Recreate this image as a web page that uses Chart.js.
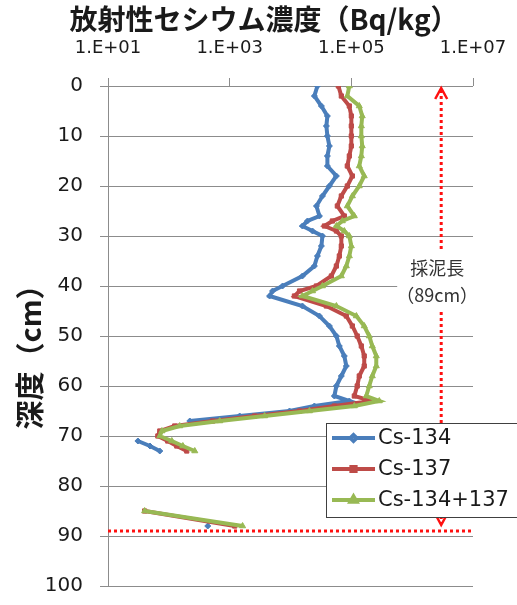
<!DOCTYPE html>
<html>
<head>
<meta charset="utf-8">
<script src="https://cdn.jsdelivr.net/npm/chart.js@4"></script>
<style>
  html, body { margin: 0; padding: 0; background: #fff; }
</style>
</head>
<body>
<canvas id="depthChart" width="517" height="605"></canvas>
<script>
// depth of each sample (cm)
const depths = [0, 2, 4, 6, 8, 10, 12, 14, 16, 18, 20, 22, 24, 26, 27, 28, 29,
  30, 32, 34, 36, 38, 40, 41, 42, 44, 46, 48, 50, 52, 54, 56, 58, 60, 62,
  63, 64, 65, 66, 67, 68, 69, 70, 71, 72, 73, 79, 85, 88];

// Bq/kg
const cs134 = [27700, 24700, 32200, 40400, 38900, 40400, 43600, 40400, 40400, 56800,
  43600, 33500, 26700, 29900, 19000, 15700, 23000,
  33500, 32200, 27700, 24700, 15700, 7400, 5070, 4530, 15700, 29900, 43600, 56800,
  63500, 76700, 82700, 68500, 56800, 52600,
  92700, 24700, 9630, 1460, 221, null, null, null, 31, 49, 71, null, null, 436];

const cs137 = [61200, 68500, 92700, 100000, 100000, 100000, 100000, 92700, 85900, 104000,
  85900, 68500, 58900, 76700, 48800, 36100, 56800,
  68500, 68500, 63500, 56800, 47000, 26700, 14100, 11600, 38900, 82700, 104000, 125000,
  146000, 163000, 163000, 135000, 125000, 112000,
  213000, 52600, 14100, 2570, 527, 125, 71, 66, 96, 135, 197, null, 40, 1210];

const csTotal = [92700, 85900, 135000, 151000, 146000, 146000, 151000, 146000, 135000, 163000,
  135000, 104000, 85900, 112000, 71100, 56800, 76700,
  92700, 100000, 92700, 82700, 68500, 33500, 23000, 15700, 56800, 121000, 163000, 197000,
  221000, 257000, 257000, 221000, 197000, 176000,
  288000, 112000, 20500, 3750, 686, 151, 77, 71, 112, 170, 267, null, 40, 1630];

const seriesNames = ['Cs-134', 'Cs-137', 'Cs-134+137'];
const xTicks = [1e1, 1e3, 1e5, 1e7];
const titleText = '放射性セシウム濃度（Bq/kg）';
const yTitleText = '深度（cm）';
const coreLength = 89;        // 採泥長 (cm)
const arrowValue = 3e6;       // where the core length arrow sits on the x axis
const noteLines = ['採泥長', '（89cm）'];

const latin = '"DejaVu Sans", "Noto Sans CJK JP", sans-serif';
const cjk = '"Noto Sans CJK JP", "DejaVu Sans", sans-serif';

function toPoints(values) {
  return depths.map((d, i) => ({ x: values[i], y: d }));
}

function makeSet(label, values, color, style, radius, order) {
  return {
    label: label,
    data: toPoints(values),
    showLine: true,
    borderColor: color,
    backgroundColor: color,
    borderWidth: 4,
    pointStyle: style,
    pointRadius: radius,
    pointBorderWidth: 1,
    spanGaps: false,
    order: order
  };
}

const overlay = {
  id: 'overlay',
  beforeDatasetsDraw(chart) {
    const { ctx, chartArea: a, scales: { x, y } } = chart;
    const ax = x.getPixelForValue(arrowValue);
    const yTop = y.getPixelForValue(0);
    const yCore = y.getPixelForValue(coreLength);
    ctx.save();
    ctx.strokeStyle = '#ff1010';
    ctx.lineWidth = 3;
    ctx.setLineDash([3, 3]);
    ctx.beginPath();
    ctx.moveTo(a.left, yCore);
    ctx.lineTo(a.right, yCore);
    ctx.stroke();
    ctx.beginPath();
    ctx.moveTo(ax, yTop + 4);
    ctx.lineTo(ax, yCore - 8);
    ctx.stroke();
    ctx.setLineDash([]);
    ctx.lineWidth = 2.5;
    ctx.beginPath();
    ctx.moveTo(ax - 6, yTop + 13);
    ctx.lineTo(ax, yTop + 2);
    ctx.lineTo(ax + 6, yTop + 13);
    ctx.stroke();
    ctx.beginPath();
    ctx.moveTo(ax - 6, yCore - 17);
    ctx.lineTo(ax, yCore - 6);
    ctx.lineTo(ax + 6, yCore - 17);
    ctx.stroke();
    // label
    ctx.fillStyle = '#fff';
    ctx.fillRect(ax - 44, 252, 88, 58);
    ctx.fillStyle = '#333';
    ctx.font = '18px ' + cjk;
    ctx.textAlign = 'center';
    ctx.textBaseline = 'middle';
    ctx.fillText(noteLines[0], ax - 4, 268);
    ctx.fillText(noteLines[1], ax - 4, 295);
    ctx.restore();
  },
  afterDraw(chart) {
    const { ctx } = chart;
    ctx.save();
    ctx.fillStyle = '#1a1a1a';
    ctx.textAlign = 'center';
    ctx.textBaseline = 'middle';
    ctx.font = 'bold 28px ' + cjk;
    ctx.fillText(titleText, 264, 19);
    ctx.translate(30, 350);
    ctx.rotate(-Math.PI / 2);
    ctx.font = 'bold 29px ' + cjk;
    ctx.fillText(yTitleText, 0, 0);
    ctx.restore();

    // legend box
    ctx.save();
    ctx.fillStyle = '#fff';
    ctx.strokeStyle = '#404040';
    ctx.lineWidth = 1;
    ctx.fillRect(326.5, 423.5, 200, 94);
    ctx.strokeRect(326.5, 423.5, 200, 94);
    const rows = [438, 469, 500];
    chart.data.datasets.forEach((ds, i) => {
      const ry = rows[i];
      ctx.strokeStyle = ds.borderColor;
      ctx.lineWidth = 4;
      ctx.beginPath();
      ctx.moveTo(332, ry);
      ctx.lineTo(375, ry);
      ctx.stroke();
      Chart.helpers.drawPoint(ctx, {
        pointStyle: ds.pointStyle, radius: ds.pointRadius, rotation: 0, borderWidth: 1
      }, 353.5, ry);
      ctx.fillStyle = '#1a1a1a';
      ctx.font = '21px ' + latin;
      ctx.textAlign = 'left';
      ctx.textBaseline = 'middle';
      ctx.fillText(ds.label, 378, ry + 1);
    });
    ctx.restore();
  }
};

new Chart(document.getElementById('depthChart').getContext('2d'), {
  type: 'scatter',
  data: {
    datasets: [
      makeSet(seriesNames[0], cs134, '#4a7ebb', 'rectRot', 3, 3),
      makeSet(seriesNames[1], cs137, '#be4b48', 'rect', 3, 2),
      makeSet(seriesNames[2], csTotal, '#98b954', 'triangle', 3.5, 1)
    ]
  },
  options: {
    responsive: false,
    animation: false,
    layout: { autoPadding: false, padding: { left: 0, right: 44, top: 0, bottom: 19 } },
    plugins: {
      legend: { display: false },
      tooltip: { enabled: false },
      title: { display: false }
    },
    scales: {
      x: {
        type: 'logarithmic',
        position: 'top',
        min: 1e1,
        max: 1e7,
        afterBuildTicks: scale => { scale.ticks = xTicks.map(v => ({ value: v })); },
        afterFit: scale => {
          scale.height = 86;
          scale.paddingLeft = 0;
          scale.paddingRight = 0;
        },
        grid: { drawOnChartArea: false, drawTicks: true, tickLength: 8, color: '#8c8c8c' },
        border: { display: false },
        ticks: {
          padding: 19,
          color: '#1a1a1a',
          font: { family: latin, size: 18 },
          maxRotation: 0,
          callback: v => '1.E+' + String(Math.round(Math.log10(v))).padStart(2, '0')
        }
      },
      y: {
        type: 'linear',
        reverse: true,
        min: 0,
        max: 100,
        afterFit: scale => {
          scale.width = 108;
          scale.paddingTop = 0;
          scale.paddingBottom = 0;
        },
        grid: { color: '#8c8c8c', tickLength: 8 },
        border: { color: '#8c8c8c' },
        ticks: {
          stepSize: 10,
          padding: 17,
          color: '#1a1a1a',
          font: { family: latin, size: 20 }
        }
      }
    }
  },
  plugins: [overlay]
});
</script>
</body>
</html>
